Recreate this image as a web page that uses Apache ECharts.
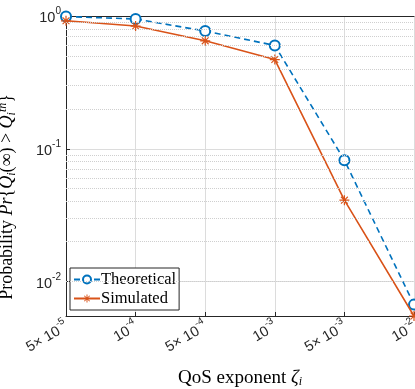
<!DOCTYPE html>
<html>
<head>
<meta charset="utf-8">
<script src="https://cdn.jsdelivr.net/npm/echarts@6/dist/echarts.min.js"></script>
<style>
html, body { margin: 0; padding: 0; background: #fff; }
#chart { width: 415px; height: 389px; }
</style>
</head>
<body>
<div id="chart"></div>
<script>
// x categories (QoS exponent), label parts: [mantissa, exponent]
var xLabels = [['5', '-5'], ['', '-4'], ['5', '-4'], ['', '-3'], ['5', '-3'], ['', '-2']];
var theoretical = [0.99, 0.95, 0.77, 0.60, 0.082, 0.0067];
var simulated = [0.92, 0.84, 0.65, 0.47, 0.041, 0.0055];
// dotted minor grid values
var minorGrid = [0.006, 0.007, 0.008, 0.009, 0.02, 0.03, 0.04, 0.05, 0.06, 0.07, 0.08, 0.09,
    0.2, 0.3, 0.4, 0.5, 0.6, 0.7, 0.8, 0.9];

var blue = '#0072BD';
var orange = '#D95319';
var axisColor = '#262626';
var serif = 'Liberation Serif';

// asterisk marker, like matlab '*'
var asterisk = 'path://M0 4.4L10 4.4L10 5.6L0 5.6Z M4.4 0L5.6 0L5.6 10L4.4 10Z' +
    ' M1.2 2L2 1.2L8.8 8L8 8.8Z M8 1.2L8.8 2L2 8.8L1.2 8Z';

var supRich = {
    b: { fontSize: 14.5, color: axisColor, fontFamily: 'Liberation Sans', verticalAlign: 'bottom' },
    s: { fontSize: 10, color: axisColor, fontFamily: 'Liberation Sans', padding: [0, 0, 9, 0], verticalAlign: 'bottom' }
};

function nameRich(size) {
    var small = Math.round(size * 0.65);
    return {
        n: { fontFamily: serif, fontSize: size, color: '#000' },
        i: { fontFamily: serif, fontStyle: 'italic', fontSize: size, color: '#000' },
        sub: { fontFamily: serif, fontStyle: 'italic', fontSize: small, color: '#000', padding: [8, 0, 0, 0] },
        sup: { fontFamily: serif, fontStyle: 'italic', fontSize: small, color: '#000', padding: [0, 0, 9, 0] }
    };
}

var myChart = echarts.init(document.getElementById('chart'));
myChart.setOption({
    animation: false,
    grid: { left: 66, right: 1, top: 16, bottom: 73, outerBoundsMode: 'none', containLabel: false },
    legend: {
        orient: 'vertical',
        left: 70,
        top: 268,
        padding: [3, 3, 3, 3],
        itemGap: 2,
        itemWidth: 26,
        itemHeight: 10,
        backgroundColor: '#fff',
        borderColor: axisColor,
        borderWidth: 1,
        borderRadius: 0,
        textStyle: { fontFamily: serif, fontSize: 16.5, color: '#000', padding: [0, 0, 0, -4] },
        data: ['Theoretical', 'Simulated']
    },
    xAxis: [{
        type: 'category',
        boundaryGap: false,
        data: xLabels.map(function (v, i) { return i; }),
        axisLine: { lineStyle: { color: axisColor } },
        axisTick: { inside: true, length: 4, alignWithLabel: true, lineStyle: { color: axisColor } },
        splitLine: { show: true, lineStyle: { color: '#dcdcdc' } },
        axisLabel: {
            rotate: 30,
            margin: 8,
            formatter: function (v) {
                var p = xLabels[v];
                return (p[0] ? '{b|' + p[0] + '× 10}' : '{b|10}') + '{s|' + p[1] + '}';
            },
            rich: supRich
        },
        name: '{n|QoS exponent }{i|ζ}{sub|i}',
        nameLocation: 'middle',
        nameGap: 52,
        nameTextStyle: { rich: nameRich(19) }
    }, {
        type: 'category',
        position: 'top',
        boundaryGap: false,
        data: xLabels.map(function (v, i) { return i; }),
        axisLine: { lineStyle: { color: axisColor } },
        axisTick: { show: false },
        axisLabel: { show: false },
        splitLine: { show: false }
    }],
    yAxis: {
        type: 'log',
        logBase: 10,
        min: 0.0055,
        max: 1,
        axisLine: { show: true, lineStyle: { color: axisColor } },
        axisTick: { show: true, inside: true, length: 4, lineStyle: { color: axisColor } },
        splitLine: { show: true, lineStyle: { color: '#dcdcdc' } },
        axisLabel: {
            margin: 5,
            showMinLabel: false,
            formatter: function (v) {
                var e = Math.log10(v);
                if (Math.abs(e - Math.round(e)) > 1e-6) return '';
                return '{b|10}{s|' + Math.round(e) + '}';
            },
            rich: supRich
        },
        name: '{n|Probability }{i|Pr}{n|{}{i|Q}{sub|i}{n|(∞) > }{i|Q}{sub|i}{sup|th}{n|\u007d}',
        nameLocation: 'middle',
        nameGap: 48,
        nameTextStyle: { fontFamily: serif, fontSize: 18, color: '#000', padding: [0, 62, 0, 0], rich: nameRich(18) }
    },
    series: [{
        name: 'Theoretical',
        type: 'line',
        data: theoretical,
        symbol: 'emptyCircle',
        symbolSize: 10,
        itemStyle: { color: blue, borderWidth: 1.6 },
        lineStyle: { color: blue, width: 1.6, type: [6, 4] },
        z: 3,
        markLine: {
            silent: true,
            symbol: 'none',
            label: { show: false },
            lineStyle: { color: '#cfcfcf', type: [1, 1], width: 1 },
            data: minorGrid.map(function (v) { return { yAxis: v }; })
        }
    }, {
        name: 'Simulated',
        type: 'line',
        data: simulated,
        symbol: asterisk,
        symbolSize: 10,
        itemStyle: { color: orange },
        lineStyle: { color: orange, width: 1.6 },
        z: 4
    }]
});
</script>
</body>
</html>
